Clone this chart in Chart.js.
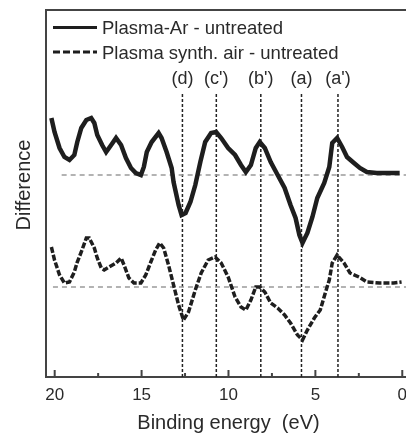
<!DOCTYPE html>
<html><head><meta charset="utf-8">
<style>html,body{margin:0;padding:0;overflow:hidden;background:#fff;width:406px;height:433px}
canvas{position:absolute;left:0;top:0}</style>
<script src="https://cdn.jsdelivr.net/npm/chart.js@4/dist/chart.umd.min.js"></script>
</head><body>
<canvas id="c" width="415" height="435"></canvas>
<script>
// Binding energy (eV) and difference signal (arbitrary units)
const energyAr = [20.19, 20.01, 19.72, 19.44, 19.15, 18.87, 18.70, 18.47, 18.18, 17.90, 17.72, 17.55, 17.27, 17.04, 16.75, 16.47, 16.18, 15.90, 15.61, 15.33, 15.04, 14.87, 14.70, 14.42, 14.02, 13.85, 13.56, 13.27, 13.16, 12.87, 12.70, 12.47, 12.19, 11.91, 11.62, 11.34, 11.0, 10.71, 10.42, 10.02, 9.62, 9.28, 9.0, 8.71, 8.43, 8.20, 7.91, 7.57, 7.17, 6.77, 6.43, 6.14, 5.92, 5.74, 5.46, 5.17, 4.89, 4.49, 4.20, 4.03, 3.75, 3.46, 3.18, 2.78, 2.44, 2.04, 1.47, 0.90, 0.15];
const diffAr = [259, 245, 229, 220, 217, 222, 235, 249, 257, 259, 254, 242, 232, 225, 232, 239, 232, 219, 209, 204, 202, 210, 225, 235, 244, 239, 225, 209, 195, 172, 162, 164, 175, 192, 215, 235, 244, 245, 239, 229, 222, 212, 205, 212, 229, 235, 229, 215, 202, 189, 172, 159, 142, 134, 144, 160, 179, 194, 210, 234, 239, 230, 220, 214, 209, 205, 204, 204, 204];
const energyAir = [20.19, 20.01, 19.72, 19.44, 19.15, 18.87, 18.70, 18.47, 18.18, 18.01, 17.72, 17.55, 17.32, 17.15, 16.87, 16.47, 16.18, 16.01, 15.73, 15.44, 15.04, 14.76, 14.47, 14.19, 13.96, 13.73, 13.45, 13.16, 12.87, 12.59, 12.30, 11.91, 11.57, 11.17, 10.77, 10.42, 10.02, 9.62, 9.28, 9.0, 8.71, 8.43, 8.20, 7.91, 7.57, 7.17, 6.77, 6.43, 6.03, 5.74, 5.46, 5.06, 4.72, 4.43, 4.20, 4.03, 3.75, 3.35, 3.01, 2.49, 2.04, 1.30, 0.50, 0.04];
const diffAir = [130, 117, 102, 94, 95, 105, 115, 125, 139, 139, 129, 119, 109, 107, 110, 114, 119, 112, 99, 94, 94, 102, 115, 127, 134, 129, 112, 92, 72, 57, 65, 87, 104, 117, 120, 114, 100, 80, 70, 67, 77, 90, 90, 85, 74, 69, 62, 54, 42, 37, 47, 59, 67, 84, 97, 114, 122, 114, 104, 100, 95, 94, 94, 95];
const seriesLabels = ['Plasma-Ar - untreated', 'Plasma synth. air - untreated'];
const baselineAr = 202;
const baselineAir = 90;
const baselineArStart = 19.6;
const baselineAirStart = 20.1;
const peakEnergies = [12.65, 10.7, 8.14, 5.8, 3.7];
const peakLabels = ['(d)', "(c')", "(b')", '(a)', "(a')"];
const peakLineTop = 285;
const majorTicks = [20, 15, 10, 5, 0];
const xMin = -0.5, xMax = 20.5, yMin = 0, yMax = 367;

const FONT = "'Liberation Sans', Arial, Helvetica, sans-serif";
Chart.defaults.font.family = FONT;
const INK = '#1e1e1e';
const TEXT = '#2a2a2a';

const pts = (xs, ys) => xs.map((x, i) => ({x, y: ys[i]}));

const datasets = [
  {label: seriesLabels[0], data: pts(energyAr, diffAr), borderColor: INK, borderWidth: 4.5, pointRadius: 0, tension: 0},
  {label: seriesLabels[1], data: pts(energyAir, diffAir), borderColor: INK, borderWidth: 3.5, borderDash: [6, 2], pointRadius: 0, tension: 0},
  {label: 'base Ar', data: [{x: baselineArStart, y: baselineAr}, {x: xMin, y: baselineAr}], borderColor: '#9a9a9a', borderWidth: 1.5, borderDash: [5, 4], pointRadius: 0},
  {label: 'base air', data: [{x: baselineAirStart, y: baselineAir}, {x: xMin, y: baselineAir}], borderColor: '#9a9a9a', borderWidth: 1.5, borderDash: [5, 4], pointRadius: 0}
];
peakEnergies.forEach((e, i) => datasets.push({
  label: peakLabels[i], data: [{x: e, y: yMin}, {x: e, y: peakLineTop}],
  borderColor: '#222', borderWidth: 1.5, borderDash: [3, 2], pointRadius: 0
}));

const decor = {
  id: 'decor',
  afterDraw(chart) {
    const ctx = chart.ctx, a = chart.chartArea, xs = chart.scales.x;
    ctx.save();
    ctx.strokeStyle = '#444'; ctx.lineWidth = 2;
    ctx.beginPath(); ctx.moveTo(a.left - 1, a.top); ctx.lineTo(a.right, a.top); ctx.stroke();
    xs.ticks.forEach(t => {
      const px = xs.getPixelForValue(t.value);
      const len = majorTicks.includes(t.value) ? 7 : 4;
      ctx.beginPath(); ctx.moveTo(px, a.bottom); ctx.lineTo(px, a.bottom - len); ctx.stroke();
    });
    ctx.fillStyle = TEXT; ctx.font = '18px ' + FONT; ctx.textAlign = 'center'; ctx.textBaseline = 'alphabetic';
    peakEnergies.forEach((e, i) => ctx.fillText(peakLabels[i], xs.getPixelForValue(e), 83.5));
    ctx.font = '18.5px ' + FONT;
    const leg = [[chart.data.datasets[0], 27.5, 33.5], [chart.data.datasets[1], 52, 58.5]];
    leg.forEach(([ds, ly, ty]) => {
      ctx.strokeStyle = INK; ctx.lineWidth = 3; ctx.setLineDash(ds.borderDash ? [7, 3] : []);
      ctx.beginPath(); ctx.moveTo(53, ly); ctx.lineTo(97, ly); ctx.stroke();
      ctx.setLineDash([]);
      ctx.textAlign = 'left'; ctx.fillText(ds.label, 102, ty);
    });
    ctx.translate(30, 185); ctx.rotate(-Math.PI / 2);
    ctx.font = '20px ' + FONT; ctx.textAlign = 'center'; ctx.textBaseline = 'alphabetic';
    ctx.fillText('Difference', 0, 0);
    ctx.restore();
  }
};

new Chart(document.getElementById('c'), {
  type: 'line',
  data: {datasets},
  options: {
    responsive: false, animation: false, devicePixelRatio: 1,
    layout: {padding: {top: 10, left: 0, right: 0, bottom: 0}},
    plugins: {legend: {display: false}, tooltip: {enabled: false}},
    scales: {
      x: {
        type: 'linear', reverse: true, min: xMin, max: xMax,
        grid: {display: false, drawTicks: false},
        border: {display: true, width: 2, color: '#444'},
        ticks: {stepSize: 2.5, includeBounds: false, autoSkip: false, maxRotation: 0, padding: 8,
          color: TEXT, font: {size: 17},
          callback: v => majorTicks.includes(v) ? String(v) : ''},
        title: {display: true, text: 'Binding energy  (eV)', color: TEXT, font: {size: 20}, padding: {top: 0, bottom: 0}},
        afterFit: s => { s.height = 58; }
      },
      y: {
        type: 'linear', min: yMin, max: yMax,
        grid: {display: false, drawTicks: false},
        border: {display: true, width: 2, color: '#444'},
        ticks: {display: false},
        afterFit: s => { s.width = 46; }
      }
    }
  },
  plugins: [decor]
});
</script>
</body></html>
